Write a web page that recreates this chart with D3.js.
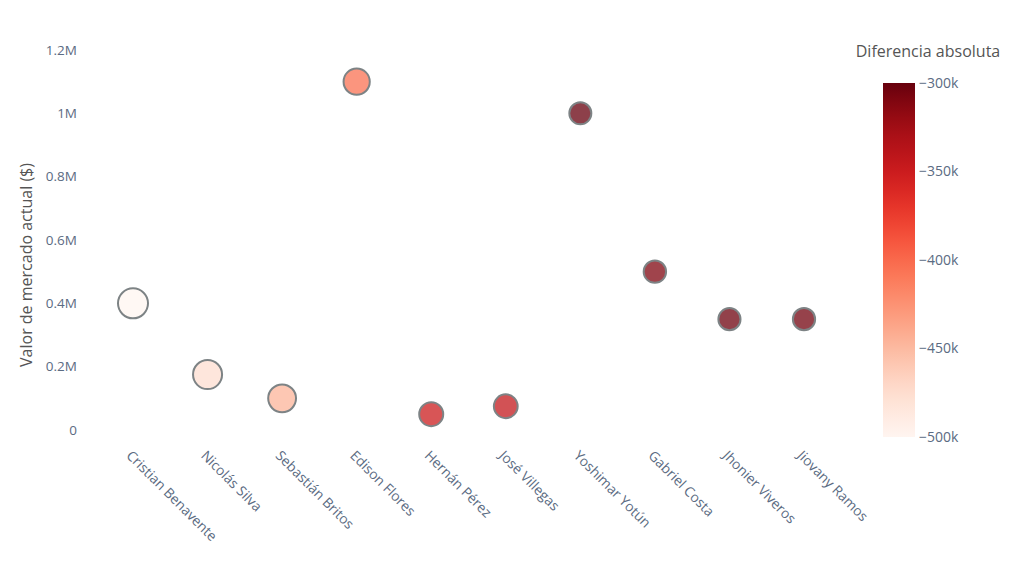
<!DOCTYPE html>
<html><head><meta charset="utf-8">
<script src="https://cdn.jsdelivr.net/npm/d3@7"></script>
<style>body{margin:0;background:#fff;font-family:"Open Sans",sans-serif;}</style>
</head><body><svg id="c" width="1024" height="576"></svg>
<script>
const players = ["Cristian Benavente","Nicolás Silva","Sebastián Britos","Edison Flores","Hernán Pérez","José Villegas","Yoshimar Yotún","Gabriel Costa","Jhonier Viveros","Jiovany Ramos"];
const marketValue = [400000,175000,100000,1100000,50000,75000,1000000,500000,350000,350000];
const absDiff = [-500000,-476000,-446000,-405000,-350000,-345000,-300000,-310000,-303000,-305000];
const yTicks = [0,200000,400000,600000,800000,1000000,1200000];
const yTickLabels = ["0","0.2M","0.4M","0.6M","0.8M","1M","1.2M"];
const cTicks = [-500000,-450000,-400000,-350000,-300000];
const cTickLabels = ["−500k","−450k","−400k","−350k","−300k"];

const svg = d3.select("#c");
const x = d3.scalePoint().domain(players).range([133,804]);
const y = d3.scaleLinear().domain([0,1200000]).range([430,50]);
const cmin = d3.min(absDiff), cmax = d3.max(absDiff);
const color = d3.scaleSequential(d3.interpolateReds).domain([cmin,cmax]);
const size = d3.scaleLinear().domain([cmax,cmin]).range([22,30]);
const tickColor = "#5b6b82";

// y axis labels
svg.append("g").selectAll("text").data(yTicks).join("text")
  .attr("x",77).attr("y",d=>y(d)).attr("dy","0.35em").attr("text-anchor","end")
  .attr("font-size",13.5).attr("fill",tickColor).text((d,i)=>yTickLabels[i]);
svg.append("text").attr("transform","translate(32,265) rotate(-90)")
  .attr("text-anchor","middle").attr("font-size",16).attr("fill","#555")
  .text("Valor de mercado actual ($)");

// x labels
svg.append("g").selectAll("text").data(players).join("text")
  .attr("transform",d=>`translate(${x(d)-4},${453}) rotate(45)`)
  .attr("text-anchor","start").attr("dy","0.35em")
  .attr("font-size",13.8).attr("fill",tickColor).text(d=>d);

// markers
svg.append("g").selectAll("circle").data(players).join("circle")
  .attr("cx",d=>x(d)).attr("cy",(d,i)=>y(marketValue[i]))
  .attr("r",(d,i)=>size(absDiff[i])/2)
  .attr("fill",(d,i)=>color(absDiff[i])).attr("fill-opacity",0.75)
  .attr("stroke","#7d8385").attr("stroke-width",2);

// colorbar
const cb = {x:883,w:32,top:83,bottom:437};
const cy = d3.scaleLinear().domain([cmin,cmax]).range([cb.bottom,cb.top]);
const defs = svg.append("defs");
const grad = defs.append("linearGradient").attr("id","g").attr("x1",0).attr("y1",1).attr("x2",0).attr("y2",0);
d3.range(0,1.0001,0.05).forEach(t=>grad.append("stop").attr("offset",t).attr("stop-color",d3.interpolateReds(t)));
svg.append("rect").attr("x",cb.x).attr("y",cb.top).attr("width",cb.w).attr("height",cb.bottom-cb.top).attr("fill","url(#g)");
svg.append("g").selectAll("text").data(cTicks).join("text")
  .attr("x",cb.x+cb.w+4).attr("y",d=>cy(d)).attr("dy","0.35em")
  .attr("font-size",14).attr("fill",tickColor).text((d,i)=>cTickLabels[i]);
svg.append("text").attr("x",928).attr("y",57).attr("text-anchor","middle")
  .attr("font-size",16).attr("fill","#555").text("Diferencia absoluta");
</script></body></html>
